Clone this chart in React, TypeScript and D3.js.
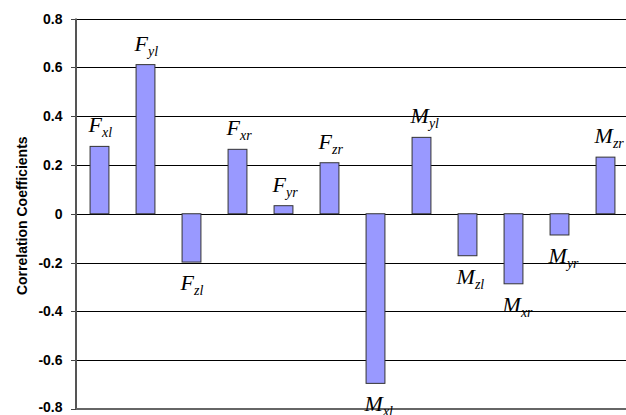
import React from "react";
import * as d3 from "d3";

const categories = ["Fxl", "Fyl", "Fzl", "Fxr", "Fyr", "Fzr", "Mxl", "Myl", "Mzl", "Mxr", "Myr", "Mzr"];
const labelMain = ["F", "F", "F", "F", "F", "F", "M", "M", "M", "M", "M", "M"];
const labelSub = ["xl", "yl", "zl", "xr", "yr", "zr", "xl", "yl", "zl", "xr", "yr", "zr"];
const values = [0.276, 0.611, -0.198, 0.264, 0.033, 0.209, -0.695, 0.313, -0.172, -0.287, -0.087, 0.232];
const yTicks = [0.8, 0.6, 0.4, 0.2, 0, -0.2, -0.4, -0.6, -0.8];
const yTitle = "Correlation Coefficients";

const W = 626;
const H = 415;
const left = 76;
const right = 628;
const top = 18.5;
const bottom = 409;

export default function App() {
  const x = d3.scaleBand<string>().domain(categories).range([left, right]).paddingInner(0.59).paddingOuter(0.295);
  const y = d3.scaleLinear().domain([-0.8, 0.8]).range([bottom, top]);
  const fmt = (v: number) => (v === 0 ? "0" : d3.format(".1f")(v).replace("\u2212", "-"));
  return (
    <svg
      width={W}
      height={H}
      style={{ position: "absolute", left: 0, top: 0, background: "#fff" }}
      fontFamily="'Liberation Sans', Arial, sans-serif"
    >
      {yTicks.map((t) => (
        <g key={t}>
          {t !== -0.8 && (
            <line x1={left} x2={W} y1={Math.round(y(t)) + 0.5} y2={Math.round(y(t)) + 0.5} stroke="#000" strokeWidth={1} />
          )}
          <line x1={left - 5} x2={left} y1={Math.round(y(t)) + 0.5} y2={Math.round(y(t)) + 0.5} stroke="#444" strokeWidth={1} />
          <text x={62.5} y={Math.min(y(t) + 5, H - 3)} textAnchor="end" fontSize={14} fontWeight="bold" fill="#000">
            {fmt(t)}
          </text>
        </g>
      ))}
      {values.map((v, i) => {
        const c = categories[i];
        const y0 = y(0);
        const yv = y(v);
        return (
          <rect
            key={c}
            x={(x(c) ?? 0) + 0.5}
            y={Math.min(y0, yv)}
            width={x.bandwidth()}
            height={Math.abs(yv - y0)}
            fill="#9999ff"
            stroke="#333333"
            strokeWidth={1}
          />
        );
      })}
      <line x1={left} x2={left} y1={top} y2={bottom} stroke="#555" strokeWidth={2} />
      <line x1={left} x2={W} y1={bottom} y2={bottom} stroke="#666" strokeWidth={2} />
      {values.map((v, i) => {
        const c = categories[i];
        const ly = v >= 0 ? y(v) - 14 : y(v) + 28;
        return (
          <text
            key={"l" + c}
            x={(x(c) ?? 0) - 1}
            y={ly}
            fontFamily="'Liberation Serif', 'Times New Roman', serif"
            fontStyle="italic"
            fontSize={22}
            fill="#000"
          >
            {labelMain[i]}
            <tspan fontSize={14} dy={5}>
              {labelSub[i]}
            </tspan>
          </text>
        );
      })}
      <text
        transform={`translate(27,${(top + bottom) / 2 + 2}) rotate(-90)`}
        textAnchor="middle"
        fontSize={14}
        fontWeight="bold"
        fill="#000"
      >
        {yTitle}
      </text>
    </svg>
  );
}
